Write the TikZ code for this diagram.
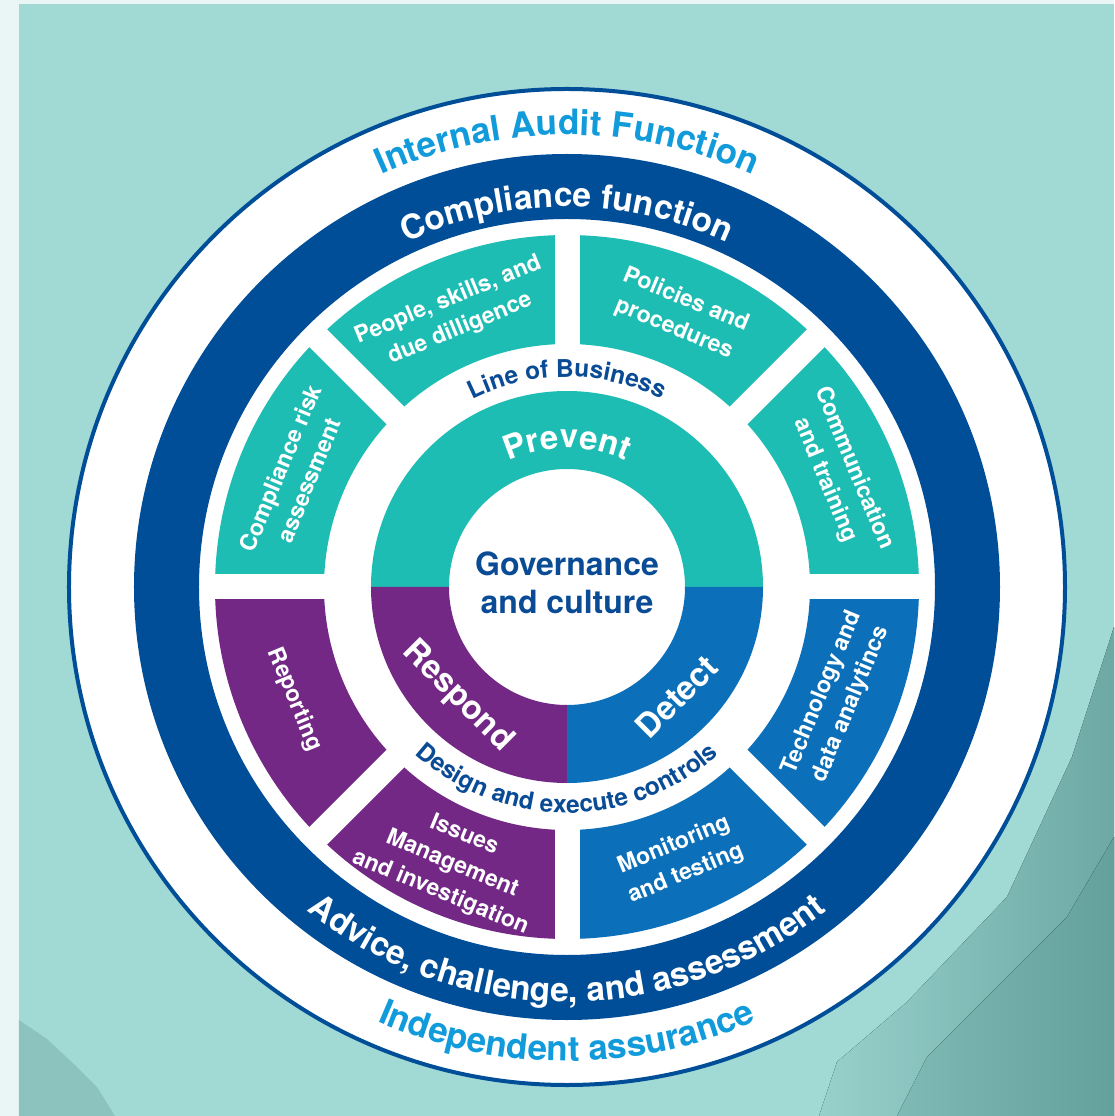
\documentclass[tikz,border=0pt]{standalone}
\usepackage{fontspec}
\setmainfont{TeX Gyre Heros}
\usetikzlibrary{decorations.text}

\definecolor{bgpale}{HTML}{EAF6F6}
\definecolor{bgteal}{HTML}{A1D9D4}
\definecolor{bgshade}{HTML}{8CC3BE}
\definecolor{bgdark}{HTML}{64A09C}
\definecolor{tealtile}{HTML}{1EBDB3}
\definecolor{purpletile}{HTML}{722884}
\definecolor{bluetile}{HTML}{0B70B9}
\definecolor{ringnavy}{HTML}{004E98}
\definecolor{textnavy}{HTML}{0A4B95}
\definecolor{auditblue}{HTML}{119BDB}

\newcommand{\auditfont}{\fontsize{35}{42}\selectfont\bfseries}
\newcommand{\bandfont}{\fontsize{33.5}{40}\selectfont\bfseries}
\newcommand{\lobfont}{\fontsize{24.5}{29}\selectfont\bfseries}
\newcommand{\tilefont}{\fontsize{23}{31}\selectfont\bfseries}
\newcommand{\ringfont}{\fontsize{33}{40}\selectfont\bfseries}
\newcommand{\centrefont}{\fontsize{32}{38}\selectfont\bfseries}

\begin{document}
\begin{tikzpicture}[
    x=1pt, y=1pt,
    tile text/.style={text=white, font=\tilefont, align=center},
    ring text/.style={text=white, font=\ringfont},
    centre text/.style={text=textnavy, font=\centrefont, align=center},
    gap/.style={white, line width=25pt},
    every node/.style={inner sep=0pt}
    ]
    \useasboundingbox (-567,-529) rectangle (547,587);
    % background
    \fill[bgpale] (-567,-529) rectangle (547,587);
    \fill[bgteal] (-548,-529) rectangle (547,583);
    \fill[bgshade] (-548,-433) -- (-520,-452) -- (-490,-480) -- (-470,-500) -- (-452,-529) -- (-548,-529) -- cycle;
    \fill[left color=bgteal!85!bgdark, right color=bgdark!85!bgteal] (547,-40) -- (505,-170) -- (440,-310)
        -- (340,-415) -- (270,-475) -- (252,-529) -- (547,-529) -- cycle;
    \fill[left color=bgteal!45!bgdark, right color=bgdark] (547,-250) -- (500,-330) -- (430,-400)
        -- (360,-470) -- (330,-529) -- (547,-529) -- cycle;

    % outer circle and compliance ring
    \draw[line width=4pt, ringnavy, fill=white] (0,0) circle[radius=498];
    \fill[ringnavy, even odd rule] (0,0) circle[radius=433] (0,0) circle[radius=368];

    % tiles
    \foreach \a/\c in {0/tealtile, 45/tealtile, 90/tealtile, 135/tealtile,
        180/purpletile, 225/purpletile, 270/bluetile, 315/bluetile}
        \fill[\c] (\a:243) arc[start angle=\a, delta angle=45, radius=243]
            -- ({\a+45}:352) arc[start angle={\a+45}, delta angle=-45, radius=352] -- cycle;
    \foreach \a in {0,45,...,315}
        \draw[gap] (\a:225) -- (\a:362);

    % prevent, respond, detect
    \fill[tealtile] (0:118) arc[start angle=0, end angle=180, radius=118]
        -- (180:196) arc[start angle=180, end angle=0, radius=196] -- cycle;
    \fill[purpletile] (180:118) arc[start angle=180, end angle=270, radius=118]
        -- (270:196) arc[start angle=270, end angle=180, radius=196] -- cycle;
    \fill[bluetile] (270:118) arc[start angle=270, end angle=360, radius=118]
        -- (0:196) arc[start angle=360, end angle=270, radius=196] -- cycle;

    % curved labels
    \path[decorate, decoration={text along path, text align=center,
        text={|\auditfont\color{auditblue}|Internal Audit Function}}]
        (160:452) arc[start angle=160, end angle=20, radius=452];
    \path[decorate, decoration={text along path, text align=center,
        text={|\bandfont\color{white}|Compliance function}}]
        (160:380) arc[start angle=160, end angle=20, radius=380];
    \path[decorate, decoration={text along path, text align=center,
        text={|\lobfont\color{textnavy}|Line of Business}}]
        (160:210) arc[start angle=160, end angle=20, radius=210];
    \path[decorate, decoration={text along path, text align=center,
        text={|\ringfont\color{white}|Prevent}}]
        (170:139) arc[start angle=170, end angle=10, radius=139];
    \path[decorate, decoration={text along path, text align=center,
        text={|\lobfont\color{textnavy}|Design and execute controls}}]
        (190:226) arc[start angle=190, end angle=350, radius=226];
    \path[decorate, decoration={text along path, text align=center,
        text={|\bandfont\color{white}|Advice, challenge, and assessment}}]
        (200:415) arc[start angle=200, end angle=340, radius=415];
    \path[decorate, decoration={text along path, text align=center,
        text={|\auditfont\color{auditblue}|Independent assurance}}]
        (200:474) arc[start angle=200, end angle=340, radius=474];

    % tile labels
    \node[tile text, rotate=67.5] (riskassess) at (157.5:295) {Compliance risk\\assessment};
    \node[tile text, rotate=22.5] (people) at (112.5:295) {People, skills, and\\due dilligence};
    \node[tile text, rotate=-22.5] (policies) at (67.5:295) {Policies and\\procedures};
    \node[tile text, rotate=-67.5] (communication) at (22.5:295) {Communication\\and training};
    \node[tile text, rotate=67.5] (technology) at (-22.5:292) {Technology and\\data analytincs};
    \node[tile text, rotate=22.5] (monitoring) at (-67.5:295) {Monitoring\\and testing};
    \node[tile text, rotate=-22.5] (issues) at (-112.5:300) {Issues\\Management\\and investigation};
    \node[tile text, rotate=-67.5] (reporting) at (-157.5:295) {Reporting};

    % centre
    \node[ring text, rotate=-45] (respond) at (225:155) {Respond};
    \node[ring text, rotate=45] (detect) at (315:155) {Detect};
    \node[centre text] (governance) at (0,4) {Governance\\and culture};
\end{tikzpicture}
\end{document}
